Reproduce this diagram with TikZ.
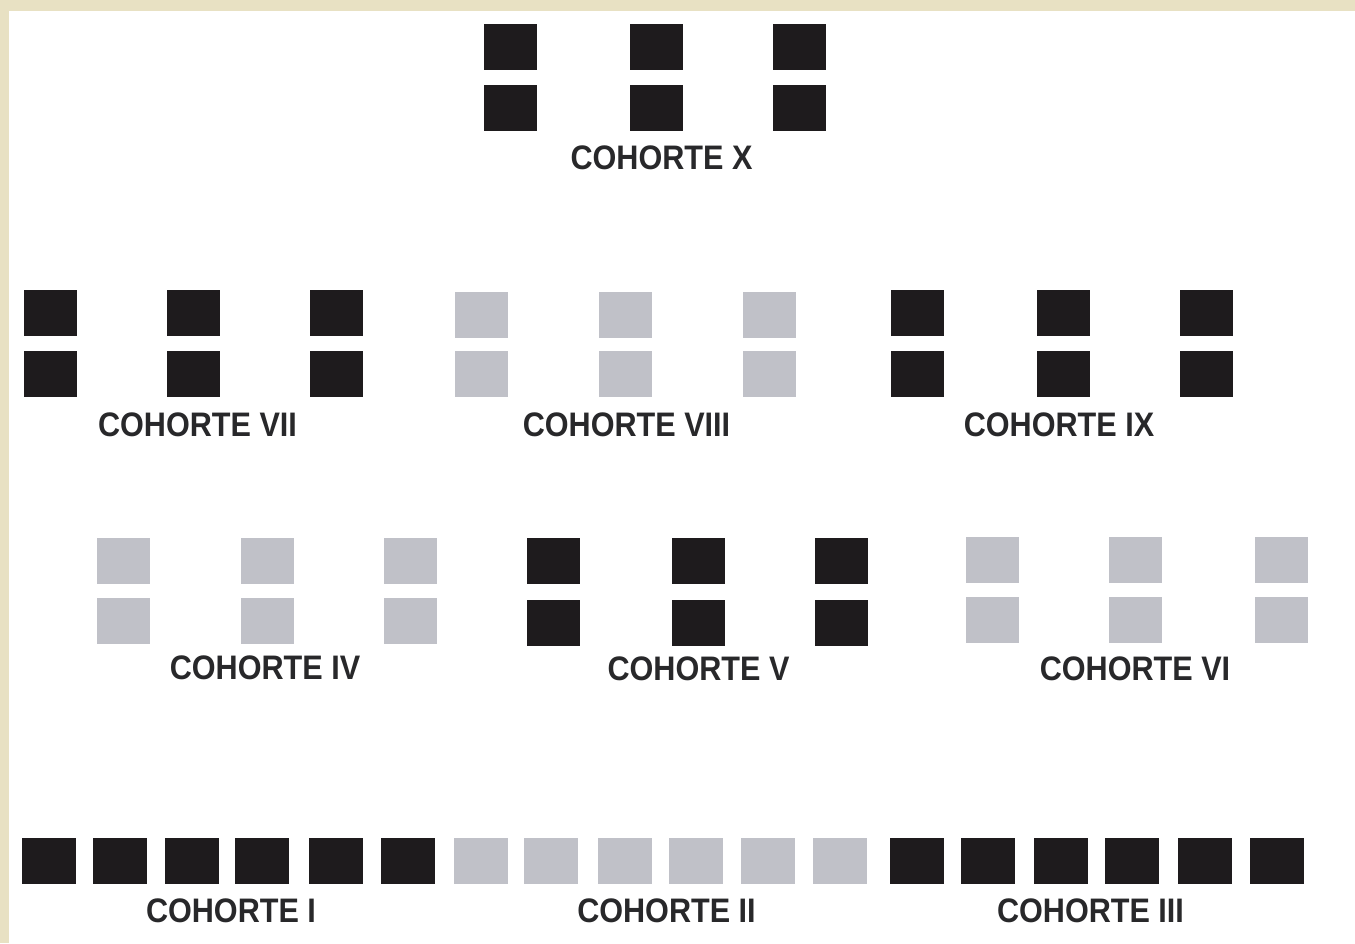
\documentclass[tikz,border=0pt]{standalone}
\usepackage{fontspec}
\setmainfont{Liberation Sans}
\definecolor{paper}{RGB}{232,225,195}
\definecolor{blk}{RGB}{30,27,29}
\definecolor{gry}{RGB}{192,193,200}
\definecolor{txt}{RGB}{40,40,42}
\tikzset{
  sqbase/.style={draw=none, inner sep=0pt, outer sep=0pt, rectangle},
  blksq/.style={sqbase, fill=blk},
  grysq/.style={sqbase, fill=gry},
  pair/.style={minimum width=53pt, minimum height=46pt},
  lone/.style={minimum width=54pt, minimum height=46pt},
  lbl/.style={anchor=base, text=txt, inner sep=0pt, font=\fontsize{34}{34}\selectfont\bfseries}
}
\newcommand\cohlabel[1]{\scalebox{0.9}[1]{#1}}
\begin{document}
\begin{tikzpicture}[x=1pt,y=-1pt]
\fill[paper] (0,0) rectangle (1355,943);
\fill[white] (9,11) rectangle (1355,943);
\useasboundingbox (0,0) rectangle (1355,943);

% Cohorte X
\foreach \i/\x in {1/510.5,2/656,3/799.5}{
  \node[blksq,pair] (x-t\i) at (\x,46.5) {};
  \node[blksq,pair] (x-b\i) at (\x,107.5) {};
}
\node[lbl] (lx) at (661.5,169) {\cohlabel{COHORTE X}};

% Cohorte VII
\foreach \i/\x in {1/50.5,2/193.5,3/336.5}{
  \node[blksq,pair] (vii-t\i) at (\x,312.5) {};
  \node[blksq,pair] (vii-b\i) at (\x,374) {};
}
\node[lbl] (lvii) at (197.5,436) {\cohlabel{COHORTE VII}};

% Cohorte VIII
\foreach \i/\x in {1/481.5,2/625,3/769}{
  \node[grysq,pair] (viii-t\i) at (\x,314.5) {};
  \node[grysq,pair] (viii-b\i) at (\x,374) {};
}
\node[lbl] (lviii) at (626.5,436) {\cohlabel{COHORTE VIII}};

% Cohorte IX
\foreach \i/\x in {1/917.5,2/1063.5,3/1206.5}{
  \node[blksq,pair] (ix-t\i) at (\x,312.5) {};
  \node[blksq,pair] (ix-b\i) at (\x,374) {};
}
\node[lbl] (lix) at (1059,436) {\cohlabel{COHORTE IX}};

% Cohorte IV
\foreach \i/\x in {1/123.5,2/267.5,3/410}{
  \node[grysq,pair] (iv-t\i) at (\x,561) {};
  \node[grysq,pair] (iv-b\i) at (\x,620.5) {};
}
\node[lbl] (liv) at (265,679) {\cohlabel{COHORTE IV}};

% Cohorte V
\foreach \i/\x in {1/553.5,2/698.5,3/841.5}{
  \node[blksq,pair] (v-t\i) at (\x,560.5) {};
  \node[blksq,pair] (v-b\i) at (\x,622.5) {};
}
\node[lbl] (lv) at (698.5,680) {\cohlabel{COHORTE V}};

% Cohorte VI
\foreach \i/\x in {1/992,2/1135.5,3/1281}{
  \node[grysq,pair] (vi-t\i) at (\x,560) {};
  \node[grysq,pair] (vi-b\i) at (\x,620) {};
}
\node[lbl] (lvi) at (1135,680) {\cohlabel{COHORTE VI}};

% Cohorte I
\foreach \i/\x in {1/49,2/119.5,3/192,4/262,5/335.5,6/407.5}{
  \node[blksq,lone] (i-\i) at (\x,860.5) {};
}
\node[lbl] (li) at (231,922) {\cohlabel{COHORTE I}};

% Cohorte II
\foreach \i/\x in {1/480.5,2/550.5,3/625,4/696,5/768,6/839.5}{
  \node[grysq,lone] (ii-\i) at (\x,860.5) {};
}
\node[lbl] (lii) at (666.5,922) {\cohlabel{COHORTE II}};

% Cohorte III
\foreach \i/\x in {1/916.5,2/988,3/1061,4/1131.5,5/1205,6/1277}{
  \node[blksq,lone] (iii-\i) at (\x,860.5) {};
}
\node[lbl] (liii) at (1090.5,922) {\cohlabel{COHORTE III}};
\end{tikzpicture}
\end{document}
